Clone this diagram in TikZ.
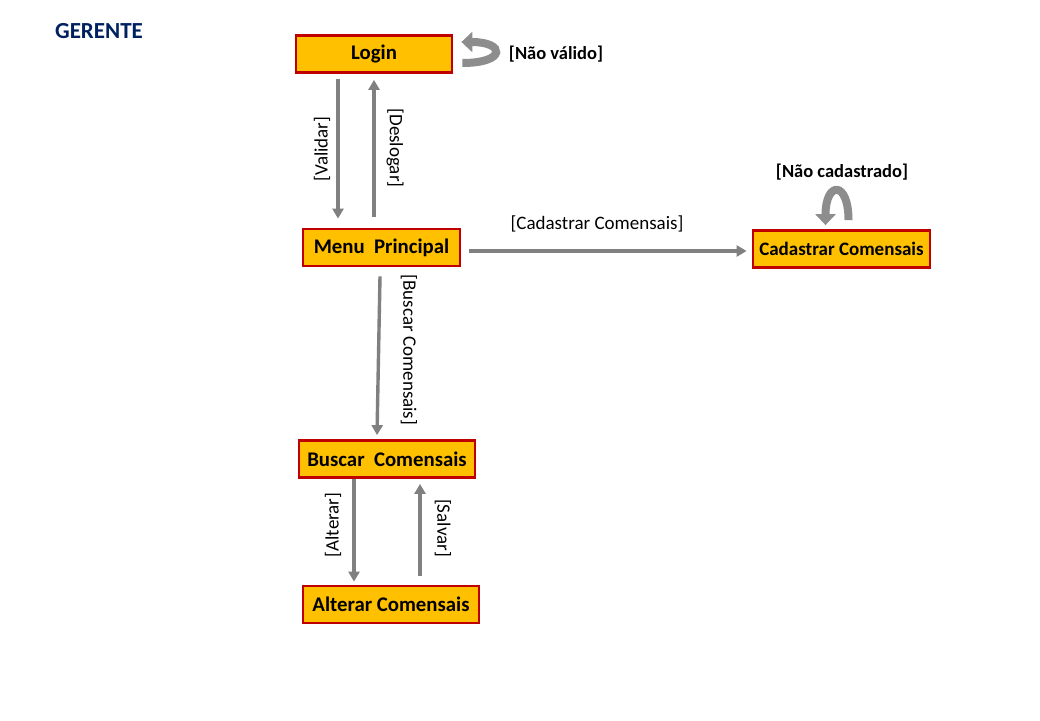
\documentclass[tikz,border=0pt]{standalone}
\usepackage{xcolor}
\usepackage{fontspec}
\setmainfont{Carlito}
\usetikzlibrary{arrows.meta}

\definecolor{boxfill}{HTML}{FFC000}
\definecolor{boxline}{HTML}{C00000}
\definecolor{flowgray}{HTML}{808080}
\definecolor{navy}{HTML}{002060}

\tikzset{
  state/.style={draw=boxline, fill=boxfill, line width=2.8pt, minimum height=37pt, font=\fontsize{20.8}{22}\selectfont\bfseries, inner sep=0pt},
  flow/.style={draw=flowgray, line width=3.4pt, -{Triangle[length=10pt,width=11pt]}},
  back/.style={draw=flowgray!90, line width=8pt, -{Triangle[length=11pt,width=20pt]}},
  lbl/.style={font=\fontsize{19}{21}\selectfont},
  blbl/.style={font=\fontsize{18.5}{21}\selectfont\bfseries}
}

\begin{document}
\begin{tikzpicture}[x=1pt, y=-1pt]
    \useasboundingbox (0,0) rectangle (1040,720);
    \node[font=\fontsize{23}{25}\selectfont\bfseries, text=navy] (title) at (99,31) {GERENTE};

    \node[state, minimum width=156pt] (login) at (374,54) {Login};
    \node[state, minimum width=157pt] (menu) at (381.5,247.5) {Menu\ \ Principal};
    \node[state, minimum width=177pt, font=\fontsize{19}{21}\selectfont\bfseries] (cadastrar) at (841.5,249) {Cadastrar Comensais};
    \node[state, minimum width=176pt] (buscar) at (387,459) {Buscar\ \ Comensais};
    \node[state, minimum width=176pt] (alterar) at (391,604.5) {Alterar Comensais};

    % login <-> menu
    \draw[flow] ([xshift=-36pt,yshift=-5pt]login.south) -- ([xshift=-43.5pt,yshift=9pt]menu.north);
    \node[lbl, rotate=90] (lvalidar) at (322,149) {[Validar]};
    \draw[flow] ([xshift=-7.5pt,yshift=11pt]menu.north) -- ([yshift=-6pt]login.south);
    \node[lbl, rotate=-90] (ldeslogar) at (395,148) {[Deslogar]};

    % menu -> cadastrar
    \draw[flow] ([xshift=8pt,yshift=-3.5pt]menu.east) -- ([xshift=-5pt,yshift=-2pt]cadastrar.west);
    \node[lbl] (lcadastrar) at (597,224) {[Cadastrar Comensais]};

    % menu -> buscar
    \draw[flow] ([xshift=-1.5pt,yshift=-9pt]menu.south) -- ([xshift=-10pt,yshift=4pt]buscar.north);
    \node[lbl, rotate=-90] (lbuscar) at (409,350) {[Buscar Comensais]};

    % buscar <-> alterar
    \draw[flow] ([xshift=-33pt]buscar.south) -- ([xshift=-37pt,yshift=3pt]alterar.north);
    \node[lbl, rotate=90] (lalterar) at (333,525) {[Alterar]};
    \draw[flow] ([xshift=29pt,yshift=9pt]alterar.north) -- ([xshift=33pt,yshift=-5pt]buscar.south);
    \node[lbl, rotate=-90] (lsalvar) at (443,528) {[Salvar]};

    % loops
    \draw[back] ([xshift=9pt,yshift=-9pt]login.east) .. controls +(44,0) and +(44,0) .. ([xshift=8pt,yshift=12pt]login.east);
    \node[blbl] (naovalido) at (556,54) {[Não válido]};
    \draw[back] ([xshift=7pt,yshift=9pt]cadastrar.north) .. controls +(0,-40) and +(0,-44) .. ([xshift=-16pt,yshift=4pt]cadastrar.north);
    \node[blbl] (naocad) at (842,172) {[Não cadastrado]};
\end{tikzpicture}
\end{document}
